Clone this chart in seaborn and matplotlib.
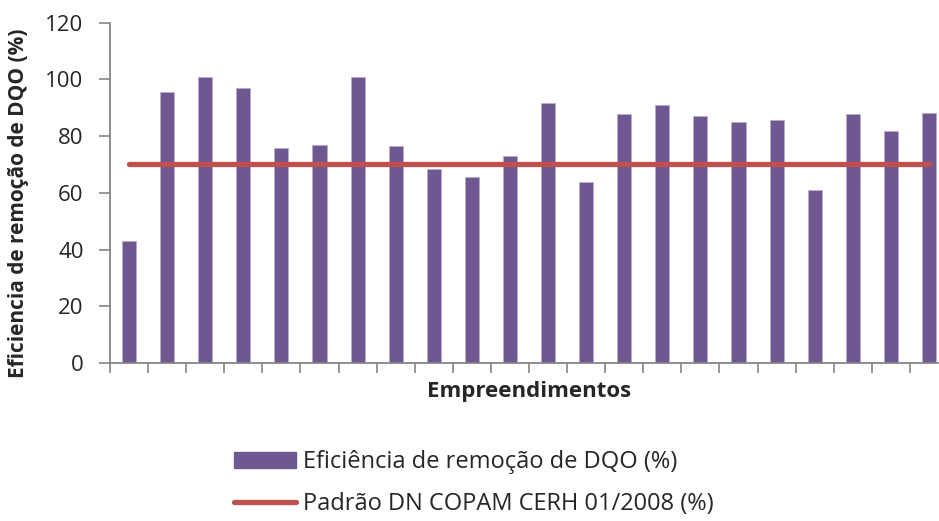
import numpy as np
import pandas as pd
import matplotlib
matplotlib.use("Agg")
import matplotlib.pyplot as plt
import seaborn as sns
from matplotlib.patches import Patch
from matplotlib.lines import Line2D

# Eficiência de remoção de DQO por empreendimento (%)
empreendimentos = [f"E{i}" for i in range(1, 23)]
eficiencia = [43, 95.7, 101, 96.9, 75.7, 77, 101, 76.4, 68.4, 65.7, 73,
              91.7, 63.7, 87.7, 91, 87, 85, 85.7, 60.9, 87.7, 81.7, 88.3]
# Padrão DN COPAM CERH 01/2008 (%)
padrao = [70] * len(empreendimentos)
y_ticks = [0, 20, 40, 60, 80, 100, 120]

label_barras = "Eficiência de remoção de DQO (%)"
label_linha = "Padrão DN COPAM CERH 01/2008 (%)"

sns.set_theme(style="white")
plt.rcParams["font.family"] = ["Open Sans", "DejaVu Sans"]

cor_barra = "#6F5892"
cor_linha = "#C0504D"
cor_eixo = "#868686"

df = pd.DataFrame({"emp": empreendimentos, "ef": eficiencia, "padrao": padrao})

fig = plt.figure(figsize=(9.39, 5.21), dpi=100)
ax = fig.add_axes([110 / 939, 1 - 363 / 521, 838 / 939, (363 - 22.7) / 521])

sns.barplot(data=df, x="emp", y="ef", color=cor_barra, width=0.37,
            edgecolor="#B9ADCB", linewidth=0.6, saturation=1, ax=ax)
sns.lineplot(x=np.arange(len(padrao)), y=df["padrao"], color=cor_linha,
             linewidth=3.8, solid_capstyle="round", ax=ax)

ax.set_xlim(-0.5, len(empreendimentos) - 0.5)
ax.set_ylim(0, 120)
ax.set_yticks(y_ticks)
ax.set_yticklabels([str(v) for v in y_ticks], fontsize=16)

# category boundaries carry the x tick marks
ax.set_xticks(np.arange(len(empreendimentos) + 1) - 0.5)
ax.set_xticklabels([])
ax.tick_params(axis="x", direction="out", length=7, width=1.2, color=cor_eixo, bottom=True)
ax.tick_params(axis="y", direction="out", length=8, width=1.2, color=cor_eixo, left=True, pad=11)

for s in ["top", "right"]:
    ax.spines[s].set_visible(False)
for s in ["left", "bottom"]:
    ax.spines[s].set_color(cor_eixo)
    ax.spines[s].set_linewidth(1.3)

ax.set_xlabel("Empreendimentos", fontsize=16, fontweight="bold")
ax.set_ylabel("Eficiencia de remoção de DQO (%)", fontsize=15, fontweight="bold")
ax.yaxis.set_label_coords(-0.0965, 0.47)
ax.xaxis.set_label_coords(0.5, -0.052)
ax.xaxis.label.set_verticalalignment("top")

handles = [Patch(facecolor=cor_barra, edgecolor=cor_barra),
           Line2D([0], [0], color=cor_linha, linewidth=3.8, solid_capstyle="round")]
fig.legend(handles, [label_barras, label_linha], loc="center",
           bbox_to_anchor=(474 / 939, 1 - 483 / 521), frameon=False,
           fontsize=17, handlelength=2.6, handleheight=0.7,
           handletextpad=0.3, labelspacing=0.75, ncol=1)

fig.savefig("out.png", dpi=100)
